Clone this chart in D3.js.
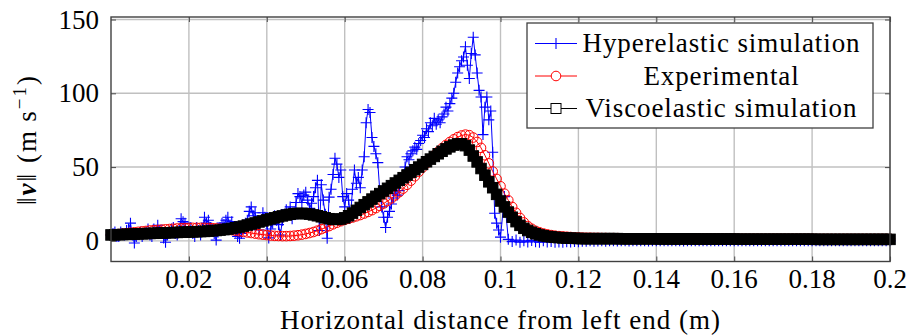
<!DOCTYPE html>
<html><head><meta charset="utf-8">
<script src="https://cdn.jsdelivr.net/npm/d3@7"></script>
<style>body{margin:0;background:#fff}svg{display:block}</style>
</head><body>
<svg id="chart" width="921" height="335"></svg>
<script>
// ---------------- data ----------------
const xTicks = [0.02,0.04,0.06,0.08,0.1,0.12,0.14,0.16,0.18,0.2];
const xTickLabels = ["0.02","0.04","0.06","0.08","0.1","0.12","0.14","0.16","0.18","0.2"];
const yTicks = [0,50,100,150];
const yTickLabels = ["0","50","100","150"];
const seriesNames = ["Hyperelastic simulation","Experimental","Viscoelastic simulation"];

// Hyperelastic simulation: x from 0 to 0.1 every 0.0005 m
const hyperStepA = 0.0005;
const hyperValsA = [
4,5,6,3,3,6,5,4,7,8, 12,4,-1.5,3,5,6,3,5,6,8,
4,3,8,6,10.6,7,5,2,-1,4, 6,8,9,5,4,7,15,13,12,6,
7,9,5,3,9,7,4,8,16,12, 14,9,8,5,0.5,6,9,12,11,14,
16,10,13,8,6,3,1.8,5,9,12, 14,20,23,17,19,11,7.3,14,19,16,
12,2,8,12,17,14,11,4,14,18, 21,19,23,15,18,26,32,30,26,31,
33,27.6,22,25.5,30,36,41,7,38,27.6, 18,1.8,29.6,35,45,56,52,43,48,30,
23,32,27.6,16,35,48,39,43,36,48, 57,80,89,87,70,64,59,53,34,23,
16,9,16,20,25,29,34,31,34,41, 45,50,57,55,59,61,63.5,62,66,68,
71.6,70,76,74,80,78,83,79,82,80, 84,86,90.6,88,93,96.7,100,107.5,113.7,118,
122,124.6,131.5,119,110,127,138,126,113.7,102, 97.5,72,90.6,97.5,82,88,60,18.7,12,7.3,
2.5
];
// Hyperelastic simulation: x from 0.101 to 0.2 every 0.001 m
const hyperStartB = 0.101, hyperStepB = 0.001;
const hyperValsB = [
30,1,-0.5,0.5,-1,0,-0.8,0.3,-0.6,-1,
0,-0.8,-0.5,-1,-0.7,-0.9,-0.6,-0.8,-0.5,-0.6,
-0.3,-0.2,0,-0.3,-0.1,0,-0.2,0.1,0,-0.1,
0,0.1,-0.1,0,0,0.1,0,-0.1,0,0,
0,0,0.1,0,0,0,-0.1,0,0,0,
0,0,0,0.1,0,0,0,0,0,0,
0,0,0,0,0,0.1,0,0,0,0,
0,0,0,0,0,0,0,0,0,0,
0,0,0,0,0,0,0,0,0,0,
0,0,0,0,0,0,0,0,0,0
];

// Experimental: x from 0 to 0.2 every 0.001 m
const expStep = 0.001;
const expVals = [
4,4.3,4.6,4.9,5.2,5.5,5.8,6.1,6.4,6.7,
7,7.2,7.4,7.6,7.8,8,8.2,8.4,8.5,8.6,
8.7,8.8,8.8,8.8,8.8,8.7,8.6,8.4,8.2,7.9,
7.6,7.3,6.9,6.5,6.1,5.7,5.3,4.9,4.5,4.2,
3.9,3.6,3.4,3.3,3.2,3.2,3.3,3.5,3.8,4.2,
4.7,5.3,6,6.9,7.9,8.9,10,11.2,12.3,13.3,
14.2,15,15.8,16.6,17.5,18.5,19.6,20.8,22.2,23.7,
25.3,27,28.8,30.8,33,35.4,38,40.8,43.8,46.8,
49.8,52.6,55.3,57.9,60.4,62.8,65,67,68.8,70.3,
71.4,72,71.6,70,67,63,58,52.5,47,42,
37,32,27.5,23,19,15.5,12.5,10,8.2,6.8,
5.8,5,4.4,3.9,3.5,3.2,3,2.8,2.6,2.4,
2.3,2.2,2.1,2.1,2,2,1.9,1.9,1.8,1.8,
1.8,1.7,1.7,1.7,1.7,1.7,1.7,1.7,1.7,1.7,
1.7,1.6,1.6,1.6,1.6,1.6,1.6,1.6,1.6,1.6,
1.6,1.5,1.5,1.5,1.5,1.5,1.5,1.5,1.5,1.5,
1.5,1.4,1.4,1.4,1.4,1.4,1.4,1.4,1.4,1.4,
1.4,1.4,1.4,1.4,1.4,1.4,1.4,1.4,1.4,1.4,
1.4,1.3,1.3,1.3,1.3,1.3,1.3,1.3,1.3,1.3,
1.3,1.3,1.3,1.3,1.3,1.3,1.3,1.3,1.3,1.3,
1.3
];

// Viscoelastic simulation: x from 0 to 0.2 every 0.001 m
const viscoStep = 0.001;
const viscoVals = [
4,4.1,4.2,4.3,4.4,4.5,4.6,4.7,4.8,4.9,
5,5.1,5.2,5.3,5.4,5.5,5.6,5.7,5.8,5.9,
6,6.1,6.2,6.3,6.4,6.6,6.8,7,7.3,7.6,
8,8.4,8.9,9.4,10,10.7,11.4,12.1,12.8,13.5,
14.2,14.9,15.6,16.3,16.9,17.5,18,18.4,18.6,18.6,
18.4,18.1,17.6,17,16.3,15.6,15,14.6,14.5,14.8,
15.6,17,18.8,20.7,22.6,24.5,26.4,28.3,30.2,32,
33.8,35.6,37.4,39.2,41,42.8,44.6,46.4,48.2,50,
51.8,53.6,55.4,57.2,59,60.7,62.3,63.7,64.9,65.7,
65.8,64.5,61.5,57.5,53.5,49,44.5,40,36,31.5,
27,23,19.5,16,13,10.5,8.5,7,5.8,4.8,
4,3.4,3,2.7,2.4,2.2,2,1.9,1.8,1.7,
1.6,1.5,1.5,1.5,1.5,1.5,1.5,1.5,1.5,1.5,
1.5,1.4,1.4,1.4,1.4,1.4,1.4,1.4,1.4,1.4,
1.4,1.3,1.3,1.3,1.3,1.3,1.3,1.3,1.3,1.3,
1.3,1.2,1.2,1.2,1.2,1.2,1.2,1.2,1.2,1.2,
1.2,1.1,1.1,1.1,1.1,1.1,1.1,1.1,1.1,1.1,
1.1,1.1,1.1,1.1,1.1,1.1,1.1,1.1,1.1,1.1,
1.1,1,1,1,1,1,1,1,1,1,
1,1,1,1,1,1,1,1,1,1,
1
];

// ---------------- layout ----------------
const W = 921, H = 335;
const plot = {left:111, right:890, top:17, bottom:261.5};
const FONT = '"Liberation Serif", "Times New Roman", serif';
const BLUE = "#0000ff", RED = "#ff0000", BLACK = "#000000";

const svg = d3.select("#chart");
svg.append("rect").attr("width",W).attr("height",H).attr("fill","#fff");

const x = d3.scaleLinear().domain([0,0.2]).range([plot.left, plot.right]);
const y = d3.scaleLinear().domain([-14,151.7]).range([plot.bottom, plot.top]);

function txt(sel, size, spacing){
  return sel.style("font-family",FONT).style("font-size",size+"px")
    .style("letter-spacing",(spacing||0)+"px").attr("fill","#000");
}

// grid
const grid = svg.append("g").attr("stroke","#c0c0c0").attr("stroke-width",1.4);
grid.selectAll("line.vx").data(xTicks).join("line")
  .attr("x1",d=>x(d)).attr("x2",d=>x(d)).attr("y1",plot.top).attr("y2",plot.bottom);
grid.selectAll("line.hy").data(yTicks).join("line")
  .attr("y1",d=>y(d)).attr("y2",d=>y(d)).attr("x1",plot.left).attr("x2",plot.right);

// tick marks (inside, all four sides) via d3 axes
const tickLen = 5;
const axB = d3.axisBottom(x).tickValues(xTicks).tickSize(-tickLen).tickFormat("");
const axT = d3.axisTop(x).tickValues(xTicks).tickSize(-tickLen).tickFormat("");
const axL = d3.axisLeft(y).tickValues(yTicks).tickSize(-tickLen).tickFormat("");
const axR = d3.axisRight(y).tickValues(yTicks).tickSize(-tickLen).tickFormat("");
function styleAxis(g){ g.select(".domain").remove(); g.selectAll("line").attr("stroke","#555").attr("stroke-width",1.1); }
svg.append("g").attr("transform",`translate(0,${plot.bottom})`).call(axB).call(styleAxis);
svg.append("g").attr("transform",`translate(0,${plot.top})`).call(axT).call(styleAxis);
svg.append("g").attr("transform",`translate(${plot.left},0)`).call(axL).call(styleAxis);
svg.append("g").attr("transform",`translate(${plot.right},0)`).call(axR).call(styleAxis);

// tick labels
svg.append("g").selectAll("text").data(xTicks).join("text")
  .attr("x",d=>x(d)).attr("y",288).attr("text-anchor","middle")
  .call(txt,27,0).text((d,i)=>xTickLabels[i]);
svg.append("g").selectAll("text").data(yTicks).join("text")
  .attr("x",99).attr("y",d=>y(d)+9).attr("text-anchor","end")
  .call(txt,27,0).text((d,i)=>yTickLabels[i]);

// axis titles
svg.append("text").attr("x",(plot.left+plot.right)/2).attr("y",329)
  .attr("text-anchor","middle").call(txt,27,1)
  .text("Horizontal distance from left end (m)");
const yl = svg.append("text").attr("transform","translate(35.5,139.5) rotate(-90)")
  .attr("text-anchor","middle").call(txt,27,2);
yl.append("tspan").text("\u2016");
yl.append("tspan").style("font-weight","bold").style("font-style","italic").text("v");
yl.append("tspan").text("\u2016 (m\u2009s");
yl.append("tspan").style("font-size","19px").attr("dy",-10).text("\u22121");
yl.append("tspan").attr("dy",10).text(")");

// ---------------- series ----------------
const hyper = hyperValsA.map((v,i)=>[i*hyperStepA, v])
  .concat(hyperValsB.map((v,i)=>[hyperStartB + i*hyperStepB, v]));
const expData = expVals.map((v,i)=>[i*expStep, v]);
const viscoData = viscoVals.map((v,i)=>[i*viscoStep, v]);

const line = d3.line().x(d=>x(d[0])).y(d=>y(d[1]));
const gS = svg.append("g");

function plus(s){ return `M${-s},0H${s}M0,${-s}V${s}`; }

// hyperelastic
gS.append("path").datum(hyper).attr("d",line).attr("fill","none").attr("stroke",BLUE).attr("stroke-width",1);
gS.append("g").selectAll("path").data(hyper).join("path")
  .attr("transform",d=>`translate(${x(d[0])},${y(d[1])})`)
  .attr("d",plus(5.5)).attr("stroke",BLUE).attr("stroke-width",1.1).attr("fill","none");

// experimental
gS.append("path").datum(expData).attr("d",line).attr("fill","none").attr("stroke",RED).attr("stroke-width",1);
gS.append("g").selectAll("circle").data(expData).join("circle")
  .attr("cx",d=>x(d[0])).attr("cy",d=>y(d[1])).attr("r",4.8)
  .attr("fill","none").attr("stroke",RED).attr("stroke-width",1);

// viscoelastic
const sq = 10.5;
gS.append("path").datum(viscoData).attr("d",line).attr("fill","none").attr("stroke",BLACK).attr("stroke-width",1);
gS.append("g").selectAll("rect").data(viscoData).join("rect")
  .attr("x",d=>x(d[0])-sq/2).attr("y",d=>y(d[1])-sq/2).attr("width",sq).attr("height",sq)
  .attr("fill",BLACK).attr("stroke",BLACK).attr("stroke-width",1);

// frame
svg.append("rect").attr("x",plot.left).attr("y",plot.top)
  .attr("width",plot.right-plot.left).attr("height",plot.bottom-plot.top)
  .attr("fill","none").attr("stroke","#404040").attr("stroke-width",1.4);

// ---------------- legend ----------------
const lg = svg.append("g");
lg.append("rect").attr("x",527).attr("y",23).attr("width",346).attr("height",105)
  .attr("fill","#fff").attr("stroke","#404040").attr("stroke-width",1.3);
const rowsY = [43.5, 76, 108.5];
const colors = [BLUE, RED, BLACK];
seriesNames.forEach((name,i)=>{
  const cy = rowsY[i];
  lg.append("line").attr("x1",535).attr("x2",577).attr("y1",cy).attr("y2",cy)
    .attr("stroke",colors[i]).attr("stroke-width",1);
  if(i===0) lg.append("path").attr("transform",`translate(556,${cy})`).attr("d",plus(5.5))
    .attr("stroke",BLUE).attr("stroke-width",1.1);
  if(i===1) lg.append("circle").attr("cx",556).attr("cy",cy).attr("r",4.8)
    .attr("fill","#fff").attr("stroke",RED).attr("stroke-width",1);
  if(i===2) lg.append("rect").attr("x",551).attr("y",cy-5).attr("width",10).attr("height",10)
    .attr("fill","#fff").attr("stroke",BLACK).attr("stroke-width",1);
  lg.append("text").attr("x",721.5).attr("y",cy+8.5).attr("text-anchor","middle")
    .call(txt,27,0.9).text(name);
});
</script>
</body></html>
